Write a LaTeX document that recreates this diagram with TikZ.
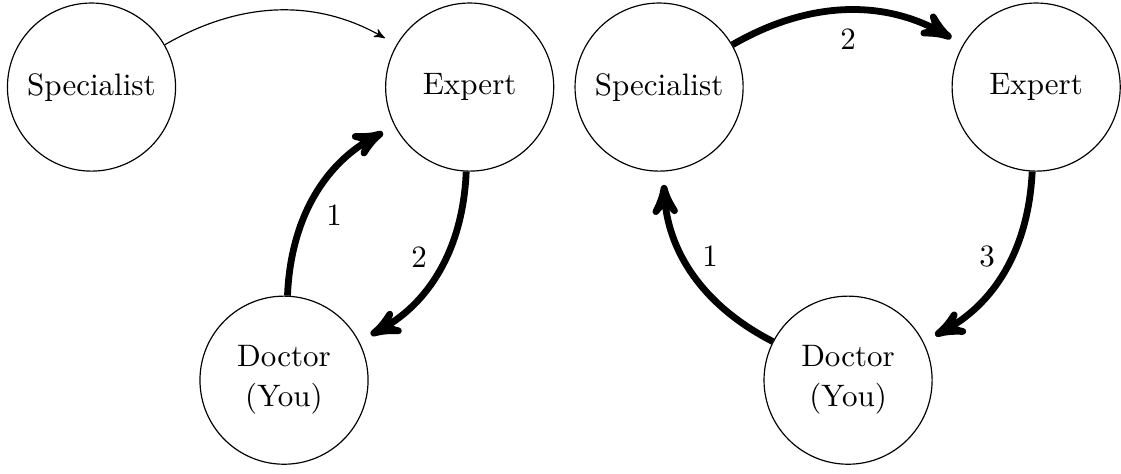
\documentclass[tikz,border=0pt]{standalone}
\usetikzlibrary{arrows}

\tikzset{every picture/.style={line width=0.4pt}}

\begin{document}
\begin{tikzpicture}[x=0.75pt,y=0.75pt,yscale=-1,xscale=1,>=stealth',
	every node/.style={font=\fontsize{10.5}{13.5}\selectfont},
	person/.style={draw, circle, minimum size=2cm, inner sep=0pt, align=center},
	heavy/.style={->, line width=2.3pt, shorten >=4.5pt},
	light/.style={->, shorten >=4.5pt}]
	\useasboundingbox (0,0) rectangle (506,213.5);

	%Shape: Circle [left specialist]
	\node [person] (lspec) at (41.3,39.3) {Specialist};
	%Shape: Circle [left expert]
	\node [person] (lexp) at (212,39.3) {Expert};
	%Shape: Circle [left doctor]
	\node [person] (ldoc) at (128.2,171.6) {Doctor\\(You)};

	%Shape: Circle [right specialist]
	\node [person] (rspec) at (297.5,39.3) {Specialist};
	%Shape: Circle [right expert]
	\node [person] (rexp) at (467.7,39.3) {Expert};
	%Shape: Circle [right doctor]
	\node [person] (rdoc) at (382.8,171.6) {Doctor\\(You)};

	%Curve Lines [left]
	\draw [light] (lspec) to [bend right=30] (lexp);
	\draw [heavy] (ldoc) to [bend right=30] (lexp);
	\draw [heavy] (lexp) to [bend right=30] (ldoc);
	%Curve Lines [right]
	\draw [heavy] (rdoc) to [bend right=30] (rspec);
	\draw [heavy] (rspec) to [bend right=30] (rexp);
	\draw [heavy] (rexp) to [bend right=30] (rdoc);

	% Text Node
	\draw (150.8,97.1) node (lone) {1};
	% Text Node
	\draw (189.2,116) node (ltwo) {2};
	% Text Node
	\draw (320.5,115.6) node (rone) {1};
	% Text Node
	\draw (382.8,17.6) node (rtwo) {2};
	% Text Node
	\draw (445.6,115.6) node (rthree) {3};

\end{tikzpicture}
\end{document}
